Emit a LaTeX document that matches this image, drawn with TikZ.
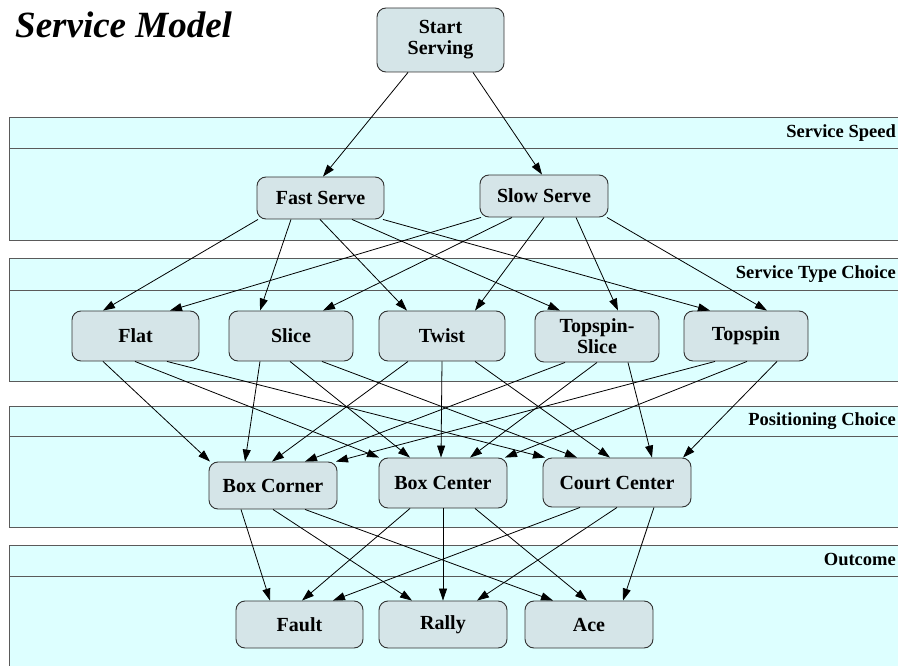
\documentclass[tikz,border=0pt]{standalone}
\usepackage{fontspec}
\setmainfont{Liberation Serif}
\usetikzlibrary{arrows.meta,calc}
\definecolor{lanefill}{RGB}{221,255,255}
\definecolor{laneline}{RGB}{90,90,90}
\definecolor{boxfill}{RGB}{213,229,232}
\definecolor{boxline}{RGB}{50,50,50}
\tikzset{
  lane/.style={draw=laneline, fill=lanefill, line width=1pt},
  laneline/.style={draw=laneline, line width=1pt},
  lanetitle/.style={anchor=base east, font=\fontsize{18.5}{18.5}\selectfont\bfseries, inner sep=0pt},
  state/.style={draw=boxline, fill=boxfill, rounded corners=9pt, inner sep=0pt,
    align=center, font=\fontsize{20}{21}\selectfont\bfseries, line width=0.9pt},
  flow/.style={draw=black, line width=0.8pt, -{Triangle[length=12pt,width=8pt]}},
}
% edge from the bottom of #1 at x=#2 to the top of #3 at x=#4
\newcommand\link[4]{\draw[flow] let \p1=(#1.south), \p2=(#3.north) in (#2pt,\y1) -- (#4pt,\y2);}
\begin{document}
\begin{tikzpicture}[x=1pt,y=-1pt]
\useasboundingbox (0,0) rectangle (898,666);
\clip (0,0) rectangle (898,666);

% swimlanes
\draw[lane] (9,118) rectangle (915,241);
\draw[laneline] (9,149) -- (915,149);
\draw[lane] (9,259) rectangle (915,381);
\draw[laneline] (9,290) -- (915,290);
\draw[lane] (9,406) rectangle (915,527);
\draw[laneline] (9,436) -- (915,436);
\draw[lane] (9,545) rectangle (915,690);
\draw[laneline] (9,576) -- (915,576);

\node[lanetitle] (l1) at (896,138) {Service Speed};
\node[lanetitle] (l2) at (896,279) {Service Type Choice};
\node[lanetitle] (l3) at (896,425) {Positioning Choice};
\node[lanetitle] (l4) at (896,565) {Outcome};

% title
\node[anchor=base west, inner sep=0pt, font=\fontsize{37}{37}\selectfont\bfseries\itshape] (title) at (15,38) {Service Model};

% states
\node[state, minimum width=127pt, minimum height=64pt] (start) at (440.5,40) {Start\\Serving};

\node[state, minimum width=127pt, minimum height=42pt] (fast) at (320.5,198) {Fast Serve};
\node[state, minimum width=128pt, minimum height=42pt] (slow) at (544,196) {Slow Serve};

\node[state, minimum width=127pt, minimum height=50pt] (flat) at (135.5,336) {Flat};
\node[state, minimum width=124pt, minimum height=50pt] (slice) at (291,336) {Slice};
\node[state, minimum width=126pt, minimum height=50pt] (twist) at (442,336) {Twist};
\node[state, minimum width=124pt, minimum height=51pt] (tslice) at (597,336.5) {Topspin-\\Slice};
\node[state, minimum width=124pt, minimum height=50pt] (topspin) at (746,336) {Topspin};

\node[state, minimum width=128pt, minimum height=47pt] (bcorner) at (273,485.5) {Box Corner};
\node[state, minimum width=128pt, minimum height=50pt] (bcenter) at (443,483) {Box Center};
\node[state, minimum width=148pt, minimum height=49pt] (ccenter) at (617,482.5) {Court Center};

\node[state, minimum width=127pt, minimum height=47pt] (fault) at (299.5,624.5) {Fault};
\node[state, minimum width=128pt, minimum height=47pt] (rally) at (443,624.5) {Rally};
\node[state, minimum width=128pt, minimum height=47pt] (ace) at (589,624.5) {Ace};

% start -> speed
\link{start}{408}{fast}{323}
\link{start}{473}{slow}{542}

% speed -> type
\link{fast}{258}{flat}{103}
\link{fast}{291}{slice}{260}
\link{fast}{320}{twist}{407}
\link{fast}{352}{tslice}{560}
\link{fast}{383}{topspin}{710}
\link{slow}{481}{flat}{170}
\link{slow}{512}{slice}{323}
\link{slow}{544}{twist}{475}
\link{slow}{576}{tslice}{618}
\link{slow}{607}{topspin}{767}

% type -> positioning
\link{flat}{103}{bcorner}{210}
\link{flat}{135}{bcenter}{379}
\link{flat}{167}{ccenter}{545}
\link{slice}{260}{bcorner}{245}
\link{slice}{290}{bcenter}{410}
\link{slice}{322}{ccenter}{577}
\link{twist}{408}{bcorner}{272}
\link{twist}{442}{bcenter}{441}
\link{twist}{475}{ccenter}{610}
\link{tslice}{565}{bcorner}{305}
\link{tslice}{597}{bcenter}{470}
\link{tslice}{628}{ccenter}{652}
\link{topspin}{715}{bcorner}{336}
\link{topspin}{747}{bcenter}{505}
\link{topspin}{777}{ccenter}{683}

% positioning -> outcome
\link{bcorner}{241}{fault}{270}
\link{bcorner}{273}{rally}{412}
\link{bcorner}{305}{ace}{553}
\link{bcenter}{410}{fault}{302}
\link{bcenter}{443}{rally}{443}
\link{bcenter}{475}{ace}{587}
\link{ccenter}{580}{fault}{333}
\link{ccenter}{617}{rally}{477}
\link{ccenter}{654}{ace}{623}
\end{tikzpicture}
\end{document}
